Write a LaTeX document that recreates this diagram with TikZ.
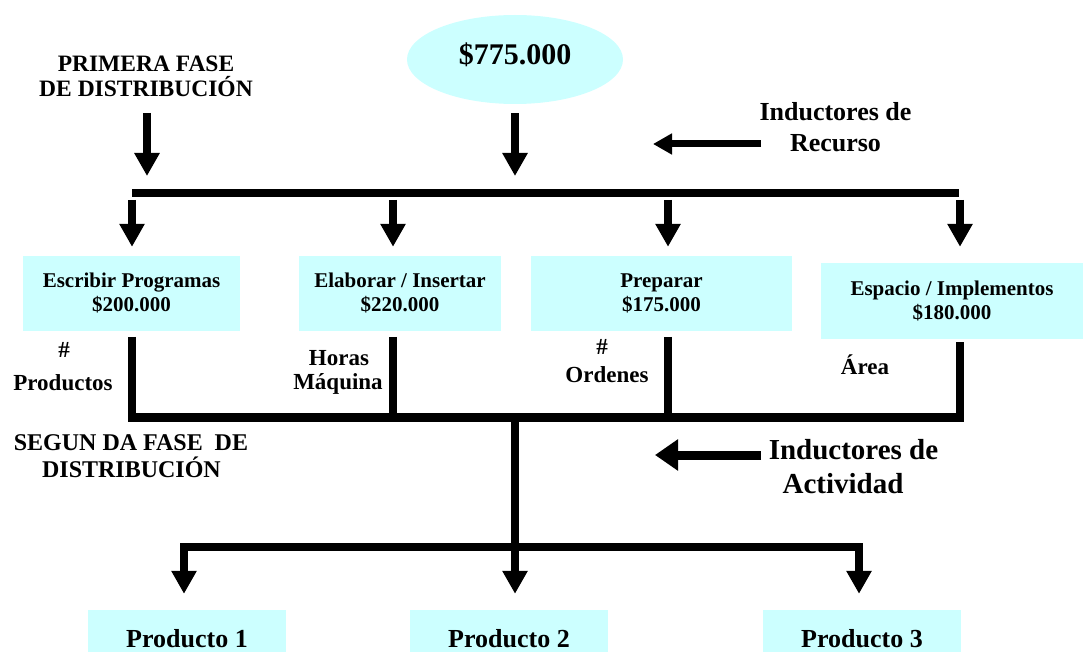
\documentclass[tikz,border=0pt]{standalone}
\usepackage{fontspec}
\setmainfont{Liberation Serif}
\usetikzlibrary{arrows.meta,shapes.geometric}
\definecolor{paleCyan}{RGB}{204,255,255}
% bold text at a given size and baseline skip
\newcommand\boldsz[2]{\fontsize{#1}{#2}\selectfont\bfseries}
\begin{document}
\begin{tikzpicture}[x=1pt,y=-1pt,
  costbox/.style={fill=paleCyan, inner sep=0pt, align=center},
  bar/.style={line width=8pt, line join=miter},
  downarrow/.style={line width=8pt, -{Triangle[width=24pt,length=23pt]}},
  lbl/.style={inner sep=0pt, anchor=base},
  lblfont/.style={font=\boldsz{23}{26}},
]
\useasboundingbox (0,0) rectangle (1085,652);
\clip (0,0) rectangle (1085,652);

% total cost
\node[ellipse, fill=paleCyan, minimum width=216pt, minimum height=89pt, inner sep=0pt] (total) at (515,59.5) {};
\node[lbl, font=\boldsz{30}{34}] (totaltext) at (515,65) {\$775.000};

% first phase heading
\node[lbl, font=\boldsz{23.5}{25}] (faseUnoA) at (146,72) {PRIMERA FASE};
\node[lbl, font=\boldsz{23.5}{25}] (faseUnoB) at (146,97) {DE DISTRIBUCIÓN};

% resource drivers
\node[lbl, font=\boldsz{26}{31}] (indRa) at (835.5,121) {Inductores de};
\node[lbl, font=\boldsz{26}{31}] (indRb) at (835.5,152) {Recurso};
\coordinate (recTail) at (761,144);
\coordinate (recTip) at (653,144);
\draw[line width=7pt, -{Triangle[width=20pt,length=19pt]}] (recTail) -- (recTip);

% arrows into the first bar
\coordinate (faseTop) at (147,113);
\coordinate (faseTip) at (147,176);
\coordinate (totalTip) at (515,176);
\draw[downarrow] (faseTop) -- (faseTip);
\draw[downarrow, shorten <=9pt] (total.south) -- (totalTip);

% first distribution bar
\coordinate (barOneL) at (132,193);
\coordinate (barOneR) at (959,193);
\draw[bar] (barOneL) -- (barOneR);

% activity cost pools
\node[costbox, minimum width=217pt, minimum height=75pt, font=\boldsz{21}{24}] (act1) at (131.5,293.5) {Escribir Programas\\\$200.000};
\node[costbox, minimum width=202pt, minimum height=75pt, font=\boldsz{21}{24}] (act2) at (400,293.5) {Elaborar / Insertar\\\$220.000};
\node[costbox, minimum width=261pt, minimum height=75pt, font=\boldsz{21}{24}] (act3) at (661.5,293.5) {Preparar\\\$175.000};
\node[costbox, minimum width=262pt, minimum height=76pt, font=\boldsz{21}{24}] (act4) at (952,301) {Espacio / Implementos\\\$180.000};

\coordinate (d1) at (132,200);
\coordinate (d2) at (393,200);
\coordinate (d3) at (668,200);
\coordinate (d4) at (960,200);
\draw[downarrow, shorten >=9pt] (d1) -- (d1 |- act1.north);
\draw[downarrow, shorten >=9pt] (d2) -- (d2 |- act2.north);
\draw[downarrow, shorten >=9pt] (d3) -- (d3 |- act3.north);
\draw[downarrow, shorten >=16pt] (d4) -- (d4 |- act4.north);

% activity drivers
\node[lbl, lblfont] (hashA) at (64,358) {\#};
\node[lbl, lblfont] (productos) at (63,391) {Productos};
\node[lbl, lblfont] (horas) at (339,366) {Horas};
\node[lbl, lblfont] (maquina) at (338,389) {Máquina};
\node[lbl, lblfont] (hashB) at (602,355) {\#};
\node[lbl, lblfont] (ordenes) at (607,383) {Ordenes};
\node[lbl, lblfont] (area) at (865,374) {Área};

% second distribution bar
\coordinate (v1) at (132,337);
\coordinate (v2) at (393,337);
\coordinate (v3) at (668,337);
\coordinate (v4) at (960,342);
\coordinate (barTwoL) at (132,417.5);
\coordinate (barTwoR) at (960,417.5);
\draw[bar] (v1) -- (barTwoL) -- (barTwoR) -- (v4);
\draw[bar] (v2) -- (v2 |- barTwoL);
\draw[bar] (v3) -- (v3 |- barTwoL);

% second phase heading
\node[lbl, font=\boldsz{24}{27}] (faseDosA) at (131,450) {SEGUN DA FASE\ \ DE};
\node[lbl, font=\boldsz{24}{27}] (faseDosB) at (131.5,477) {DISTRIBUCIÓN};

% activity drivers heading
\node[lbl, font=\boldsz{29}{34}] (indAa) at (853.5,459) {Inductores de};
\node[lbl, font=\boldsz{29}{34}] (indAb) at (843,493) {Actividad};
\coordinate (actTail) at (761,455);
\coordinate (actTip) at (655,455);
\draw[line width=9pt, -{Triangle[width=30pt,length=23pt]}] (actTail) -- (actTip);

% products
\node[costbox, minimum width=198pt, minimum height=58pt, font=\boldsz{26}{30}] (prod1) at (187,639) {Producto 1};
\node[costbox, minimum width=198pt, minimum height=58pt, font=\boldsz{26}{30}] (prod2) at (509,639) {Producto 2};
\node[costbox, minimum width=198pt, minimum height=58pt, font=\boldsz{26}{30}] (prod3) at (862,639) {Producto 3};

\coordinate (hubTwo) at (515,417.5);
\coordinate (hubThree) at (515,547);
\coordinate (barThreeL) at (180,547);
\coordinate (barThreeR) at (863,547);
\coordinate (b1) at (184,547);
\coordinate (b3) at (859,547);
\draw[bar] (hubTwo) -- (hubThree);
\draw[bar] (barThreeL) -- (barThreeR);
\draw[downarrow, shorten >=16pt] (b1) -- (b1 |- prod1.north);
\draw[downarrow, shorten >=16pt] (hubThree) -- (hubThree |- prod2.north);
\draw[downarrow, shorten >=16pt] (b3) -- (b3 |- prod3.north);
\end{tikzpicture}
\end{document}
